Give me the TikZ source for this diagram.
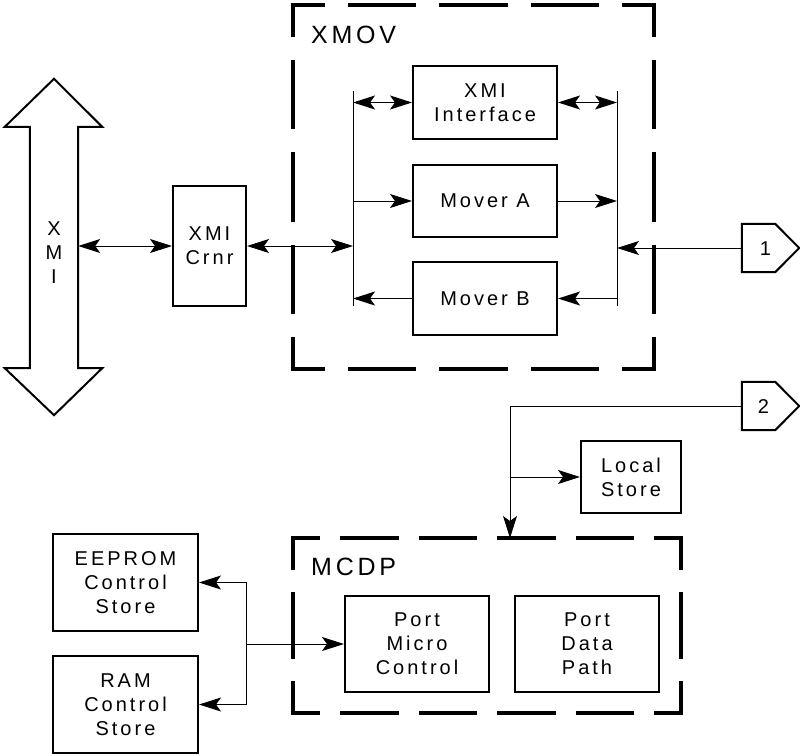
\documentclass[tikz,border=0pt]{standalone}
\usepackage{fontspec}
\setmainfont{Liberation Sans}[LetterSpace=15]
\usetikzlibrary{arrows.meta,positioning,calc}

\begin{document}
\begin{tikzpicture}[x=1pt, y=-1pt,
    font=\fontsize{20}{24}\selectfont,
    box/.style={draw, line width=2pt, inner sep=0pt, align=center, minimum width=144pt, minimum height=73pt},
    conn/.style={minimum width=33pt, minimum height=48pt, inner sep=0pt},
    wire/.style={line width=1pt},
    arr/.style={wire, -{Stealth[length=22pt, width=14pt, inset=5pt]}},
    dbl/.style={wire, {Stealth[length=22pt, width=14pt, inset=5pt]}-{Stealth[length=22pt, width=14pt, inset=5pt]}},
    frame/.style={line width=4.5pt, shorten <=-2.25pt, shorten >=-2.25pt},
    xmovh/.style={frame, dash pattern=on 68.4pt off 23pt, dash phase=34.2pt},
    xmovv/.style={frame, dash pattern=on 69.1pt off 23pt, dash phase=34.55pt},
    mcdph/.style={frame, dash pattern=on 58.5pt off 20pt, dash phase=29.25pt},
    mcdpv/.style={frame, dash pattern=on 67.75pt off 22pt, dash phase=33.9pt},
    title/.style={anchor=west, inner sep=0pt, font=\fontsize{25}{30}\selectfont}]

  \useasboundingbox (0,0) rectangle (800,755);

  % XMI bus
  \node (xmi) [minimum width=48pt, minimum height=241pt, inner sep=0pt, align=center] at (54,247.5) {};
  \node (xmilbl) [align=center, inner sep=0pt] at (54,253) {X\\M\\I};
  \draw[line width=2pt] (xmi.north west) -- ++(-25,0) -- ($(xmi.north)+(0,-48)$) -- ($(xmi.north east)+(24,0)$)
    -- (xmi.north east) -- (xmi.south east) -- ++(24,0) -- ($(xmi.south)+(0,47)$)
    -- ($(xmi.south west)+(-25,0)$) -- (xmi.south west) -- cycle;

  \node (crnr) [box, minimum width=73pt, minimum height=120pt] at (209.5,246) {XMI\\Crnr};

  % XMOV
  \node (xmovlbl) [title] at (311,35) {XMOV};
  \node (xmiif) [box] at (485,102.5) {XMI\\Interface};
  \node (movera) [box, below=24pt of xmiif, minimum height=72pt] {Mover A};
  \node (moverb) [box, below=23pt of movera] {Mover B};

  \coordinate (lbusn) at (353,91);
  \coordinate (lbuss) at (353,306);
  \coordinate (rbusn) at (617,91);
  \coordinate (rbuss) at (617,306);
  \draw[wire] (lbusn) -- (lbuss);
  \draw[wire] (rbusn) -- (rbuss);

  % off-page connectors
  \node (one) [conn] at (758.5,248) {};
  \node (onelbl) at ($(one)+(7,1)$) {1};
  \draw[line width=2pt] (one.north west) -- (one.north east) -- ($(one.east)+(24,0)$) -- (one.south east) -- (one.south west) -- cycle;
  \node (two) [conn] at (758.5,406) {};
  \node (twolbl) at ($(two)+(5,1)$) {2};
  \draw[line width=2pt] (two.north west) -- (two.north east) -- ($(two.east)+(24,0)$) -- (two.south east) -- (two.south west) -- cycle;

  \draw[dbl] (xmi.east |- crnr.west) -- (crnr.west);
  \draw[dbl] (crnr.east) -- (crnr.east -| lbusn);
  \draw[dbl] (xmiif.west -| lbusn) -- (xmiif.west);
  \draw[dbl] (xmiif.east) -- (xmiif.east -| rbusn);
  \draw[arr] (movera.west -| lbusn) -- (movera.west);
  \draw[arr] (movera.east) -- (movera.east -| rbusn);
  \draw[arr] (moverb.east -| rbusn) -- (moverb.east);
  \draw[arr] (moverb.west) -- (moverb.west -| lbusn);
  \draw[arr] (one.west) -- (one.west -| rbusn);

  % MCDP
  \node (mcdplbl) [title] at (311,567) {MCDP};
  \node (local) [box, minimum width=100pt, minimum height=72pt] at (631,477) {Local\\Store};
  \node (pmc) [box, minimum height=96pt] at (417,644) {Port\\Micro\\Control};
  \node (pdp) [box, minimum height=96pt, right=24pt of pmc] {Port\\Data\\Path};
  \node (eeprom) [box, minimum width=145pt, minimum height=97pt] at (125.5,582.5) {EEPROM\\Control\\Store};
  \node (ram) [box, minimum width=145pt, minimum height=97pt, below=23pt of eeprom] {RAM\\Control\\Store};

  \coordinate (mcdptop) at (510,538);
  \coordinate (split) at (246,644);
  \draw[arr] (two.west) -| (mcdptop);
  \draw[arr] (local.west -| mcdptop) -- (local.west);
  \draw[arr] (split) -- (pmc.west);
  \draw[arr] (split) |- (eeprom.east);
  \draw[arr] (split) |- (ram.east);

  % dashed frames
  \draw[xmovh] (293,5) -- (654,5);
  \draw[xmovh] (293,369) -- (654,369);
  \draw[xmovv] (293,5) -- (293,369);
  \draw[xmovv] (654,5) -- (654,369);
  \draw[mcdph] (293,538) -- (681,538);
  \draw[mcdph] (293,713) -- (681,713);
  \draw[mcdpv] (293,538) -- (293,713);
  \draw[mcdpv] (681,538) -- (681,713);
\end{tikzpicture}
\end{document}
